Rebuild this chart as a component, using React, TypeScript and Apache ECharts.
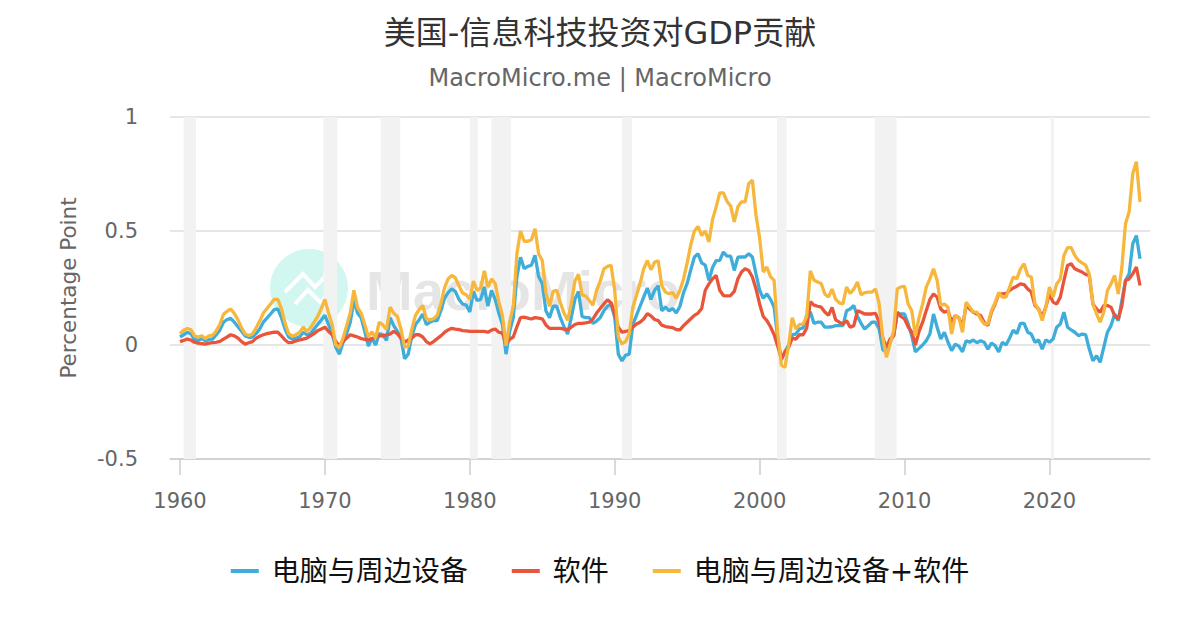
import React, { useEffect, useRef } from "react";
import * as echarts from "echarts";

const TITLE = "美国-信息科技投资对GDP贡献";
const SUBTITLE = "MacroMicro.me | MacroMicro";
const Y_NAME = "Percentage Point";
const SERIES_NAMES = ["电脑与周边设备", "软件", "电脑与周边设备+软件"];
const COLORS = ["#3eadd9", "#e8553b", "#f6b73c"];
const X_TICKS = [1960, 1970, 1980, 1990, 2000, 2010, 2020];
const Y_TICKS = [-0.5, 0, 0.5, 1];
const FIRST_YEAR = 1960;

// recession periods (start, end) in decimal years
const RECESSIONS: [number, number][] = [
  [1960.25, 1961.1],
  [1969.9, 1970.85],
  [1973.85, 1975.2],
  [1980.0, 1980.55],
  [1981.5, 1982.85],
  [1990.5, 1991.2],
  [2001.2, 2001.85],
  [2007.95, 2009.45],
  [2020.1, 2020.3],
];

// quarterly values, 1960Q1 onward (4 per row = 1 year)
const COMPUTERS = [
  0.035, 0.045, 0.055, 0.05,
  0.025, 0.02, 0.028, 0.018,
  0.025, 0.026, 0.045, 0.065,
  0.1, 0.112, 0.117, 0.1,
  0.08, 0.06, 0.04, 0.034,
  0.035, 0.05, 0.07, 0.1,
  0.118, 0.136, 0.155, 0.158,
  0.12, 0.07, 0.035, 0.026,
  0.03, 0.035, 0.056, 0.045,
  0.05, 0.07, 0.09, 0.11,
  0.13, 0.09, 0.05, -0.01,
  -0.04, 0.01, 0.05, 0.1,
  0.195, 0.14, 0.12, 0.06,
  -0.005, 0.03, 0.0, 0.05,
  0.045, 0.02, 0.12, 0.085,
  0.06, 0.03, -0.06, -0.04,
  0.04, 0.09, 0.11, 0.136,
  0.09, 0.1, 0.107, 0.107,
  0.15, 0.205, 0.23, 0.246,
  0.235, 0.2, 0.18, 0.175,
  0.145, 0.235, 0.195, 0.2,
  0.254, 0.17, 0.24, 0.2,
  0.14, 0.09, -0.04, 0.06,
  0.12, 0.3, 0.385, 0.335,
  0.345, 0.35, 0.393, 0.3,
  0.27, 0.15, 0.12, 0.17,
  0.17, 0.12, 0.08, 0.048,
  0.12, 0.2, 0.235, 0.125,
  0.12, 0.12, 0.095, 0.105,
  0.12, 0.15, 0.17, 0.18,
  0.12, -0.04, -0.07, -0.045,
  -0.04, 0.09, 0.13, 0.17,
  0.21, 0.25, 0.2, 0.24,
  0.26, 0.15, 0.166, 0.15,
  0.16, 0.14, 0.17, 0.23,
  0.27, 0.33, 0.386, 0.4,
  0.36, 0.35, 0.283, 0.34,
  0.37, 0.371, 0.408, 0.39,
  0.39, 0.327, 0.385, 0.386,
  0.386, 0.4, 0.386, 0.312,
  0.24, 0.205, 0.224, 0.2,
  0.166, 0.03, -0.065, -0.03,
  0.0, 0.045, 0.048, 0.07,
  0.075, 0.13, 0.145, 0.095,
  0.1, 0.1, 0.078, 0.078,
  0.08, 0.085, 0.085, 0.085,
  0.15, 0.158, 0.173, 0.125,
  0.095, 0.07, 0.085, 0.1,
  0.1, 0.07, -0.02, -0.032,
  0.012, 0.045, 0.136, 0.136,
  0.136, 0.092, 0.04, -0.03,
  -0.015, 0.0, 0.019, 0.048,
  0.136, 0.078, 0.026, 0.056,
  0.012, -0.025, 0.004, -0.005,
  -0.03, 0.019, 0.012, 0.022,
  0.01, 0.019, 0.012, -0.018,
  0.008, -0.003, -0.03, 0.012,
  0.0, 0.03, 0.065, 0.05,
  0.095, 0.095, 0.056, 0.048,
  0.012, 0.022, -0.018, 0.023,
  0.012, 0.026, 0.078, 0.092,
  0.144, 0.078, 0.066, 0.056,
  0.041, 0.048, 0.045, -0.018,
  -0.069, -0.047, -0.076, -0.01,
  0.056, 0.085, 0.136, 0.107,
  0.195, 0.283, 0.312, 0.444,
  0.48, 0.378,
];

const SOFTWARE = [
  0.015, 0.02, 0.026, 0.022,
  0.012, 0.008, 0.006, 0.004,
  0.008, 0.01, 0.012, 0.016,
  0.026, 0.035, 0.045, 0.04,
  0.03, 0.015, 0.004, 0.01,
  0.015, 0.03, 0.038, 0.045,
  0.05, 0.053, 0.056, 0.056,
  0.04, 0.022, 0.01, 0.012,
  0.018, 0.022, 0.026, 0.03,
  0.04, 0.05, 0.063, 0.07,
  0.078, 0.06, 0.045, 0.015,
  -0.003, 0.015, 0.03, 0.045,
  0.04, 0.035, 0.028, 0.025,
  0.022, 0.028, 0.034, 0.04,
  0.04, 0.045, 0.048, 0.06,
  0.05, 0.03, 0.012, 0.022,
  0.03, 0.045, 0.045, 0.035,
  0.015, 0.005, 0.015, 0.028,
  0.04, 0.055, 0.066, 0.073,
  0.07, 0.068, 0.063, 0.062,
  0.06, 0.06, 0.06, 0.06,
  0.06, 0.056, 0.065, 0.07,
  0.056, 0.052, 0.004, 0.025,
  0.035, 0.08, 0.12, 0.122,
  0.118, 0.114, 0.12, 0.118,
  0.115, 0.088, 0.073, 0.073,
  0.073, 0.073, 0.07, 0.067,
  0.078, 0.09, 0.095, 0.095,
  0.097, 0.1, 0.114, 0.14,
  0.16, 0.18, 0.198, 0.185,
  0.136, 0.078, 0.056, 0.06,
  0.063, 0.078, 0.092, 0.1,
  0.114, 0.138, 0.128, 0.112,
  0.107, 0.087, 0.081, 0.078,
  0.076, 0.068, 0.066, 0.085,
  0.1, 0.115, 0.13, 0.14,
  0.16, 0.24, 0.268, 0.29,
  0.305, 0.24, 0.217, 0.215,
  0.217, 0.235, 0.29, 0.32,
  0.334, 0.327, 0.298, 0.246,
  0.18, 0.125, 0.107, 0.08,
  0.045, -0.005, -0.06, -0.03,
  -0.01, 0.03, 0.026, 0.045,
  0.045, 0.075, 0.19, 0.175,
  0.17, 0.166, 0.145, 0.13,
  0.165, 0.11, 0.1, 0.092,
  0.107, 0.078, 0.085, 0.15,
  0.144, 0.136, 0.136, 0.136,
  0.139, 0.1, 0.03, -0.01,
  0.026, 0.04, 0.144, 0.125,
  0.114, 0.08, 0.056, 0.0,
  0.06, 0.1, 0.151, 0.2,
  0.224, 0.21, 0.158, 0.144,
  0.151, 0.1, 0.129, 0.12,
  0.08, 0.173, 0.158, 0.144,
  0.136, 0.129, 0.1, 0.085,
  0.144, 0.18, 0.224, 0.224,
  0.226, 0.239, 0.25, 0.258,
  0.268, 0.265, 0.246, 0.232,
  0.173, 0.158, 0.122, 0.166,
  0.224, 0.188, 0.18, 0.21,
  0.283, 0.349, 0.356, 0.334,
  0.327, 0.32, 0.31, 0.305,
  0.18, 0.158, 0.144, 0.173,
  0.173, 0.166, 0.129, 0.114,
  0.173, 0.283, 0.29, 0.312,
  0.342, 0.261,
];

const TOTAL = [
  0.05, 0.065, 0.072, 0.068,
  0.04, 0.035, 0.04, 0.028,
  0.04, 0.042, 0.062, 0.09,
  0.135, 0.148, 0.158, 0.138,
  0.11, 0.075, 0.048, 0.042,
  0.048, 0.075, 0.105, 0.14,
  0.16, 0.18, 0.2, 0.2,
  0.16, 0.095, 0.05, 0.038,
  0.045, 0.055, 0.078, 0.06,
  0.075, 0.1, 0.125, 0.16,
  0.2, 0.14, 0.09, 0.0,
  -0.01, 0.03, 0.085, 0.14,
  0.24, 0.165, 0.14, 0.09,
  0.035, 0.058, 0.03, 0.1,
  0.088, 0.068, 0.166, 0.14,
  0.125, 0.07, -0.01, -0.005,
  0.07, 0.13, 0.155, 0.173,
  0.115, 0.11, 0.115, 0.13,
  0.18, 0.25, 0.29, 0.305,
  0.295, 0.26, 0.228, 0.22,
  0.2, 0.28, 0.24, 0.25,
  0.325, 0.255, 0.29, 0.27,
  0.19, 0.13, -0.003, 0.1,
  0.17, 0.4, 0.5, 0.455,
  0.455, 0.462, 0.51, 0.4,
  0.37, 0.23, 0.17, 0.235,
  0.24, 0.185, 0.14, 0.108,
  0.18, 0.28, 0.31, 0.22,
  0.215, 0.195, 0.175, 0.24,
  0.28, 0.334, 0.345, 0.35,
  0.24, 0.035, 0.005, 0.015,
  0.048, 0.166, 0.217, 0.27,
  0.334, 0.37, 0.33, 0.363,
  0.37, 0.26, 0.232, 0.225,
  0.23, 0.205, 0.24, 0.29,
  0.36, 0.44, 0.5, 0.52,
  0.48, 0.5, 0.452, 0.55,
  0.606, 0.667, 0.667, 0.63,
  0.61, 0.54, 0.606, 0.628,
  0.628, 0.708, 0.723, 0.569,
  0.47, 0.32, 0.342, 0.3,
  0.283, 0.05, -0.088, -0.098,
  0.0, 0.12, 0.07, 0.09,
  0.092, 0.125, 0.325, 0.285,
  0.276, 0.27, 0.224, 0.21,
  0.245, 0.2, 0.185, 0.18,
  0.254, 0.226, 0.246, 0.276,
  0.22, 0.23, 0.232, 0.232,
  0.246, 0.18, 0.03, -0.054,
  0.004, 0.063, 0.246, 0.255,
  0.257, 0.18, 0.15, 0.04,
  0.12, 0.18, 0.254, 0.29,
  0.334, 0.283, 0.173, 0.18,
  0.166, 0.048, 0.129, 0.12,
  0.056, 0.188, 0.166, 0.144,
  0.144, 0.114, 0.092, 0.092,
  0.151, 0.185, 0.23, 0.21,
  0.21, 0.254, 0.298, 0.29,
  0.334, 0.356, 0.305, 0.298,
  0.18, 0.158, 0.107, 0.166,
  0.254, 0.21, 0.268, 0.29,
  0.393, 0.427, 0.427, 0.393,
  0.371, 0.36, 0.35, 0.31,
  0.18, 0.136, 0.1, 0.144,
  0.239, 0.268, 0.305, 0.224,
  0.342, 0.532, 0.584, 0.752,
  0.804, 0.628,
];

const FONT = "'DejaVu Sans', 'Noto Sans CJK SC', sans-serif";

function quarterDates(n: number): number[] {
  const out: number[] = [];
  for (let i = 0; i < n; i++) out.push(FIRST_YEAR + i * 0.25);
  return out;
}

export default function App() {
  const ref = useRef<HTMLDivElement>(null);

  useEffect(() => {
    if (!ref.current) return;
    const chart = echarts.init(ref.current, undefined, { renderer: "svg" });
    const dates = quarterDates(COMPUTERS.length);
    const pair = (vals: number[]) => vals.map((v, i) => [dates[i], v]);
    const all = [COMPUTERS, SOFTWARE, TOTAL];

    const series: any[] = all.map((vals, k) => ({
      name: SERIES_NAMES[k],
      type: "line",
      data: pair(vals),
      showSymbol: false,
      symbol: "none",
      z: 3 + k,
      lineStyle: { width: 3.3, color: COLORS[k] },
      itemStyle: { color: COLORS[k] },
    }));
    series[0].markArea = {
      silent: true,
      z: 1,
      itemStyle: { color: "#f2f2f2" },
      data: RECESSIONS.map(([a, b]) => [{ xAxis: a }, { xAxis: b }]),
    };

    chart.setOption({
      animation: false,
      backgroundColor: "#ffffff",
      title: {
        text: TITLE,
        subtext: SUBTITLE,
        left: "center",
        top: 12,
        itemGap: 17,
        textStyle: { fontSize: 32, fontWeight: "normal", color: "#333", fontFamily: FONT, lineHeight: 32 },
        subtextStyle: { fontSize: 24, color: "#666", fontFamily: FONT, lineHeight: 24 },
      },
      legend: {
        data: SERIES_NAMES,
        left: "center",
        top: 552,
        icon: "rect",
        itemWidth: 28,
        itemHeight: 4,
        itemGap: 44,
        textStyle: { fontSize: 28, color: "#111", fontFamily: FONT, padding: [0, 0, 0, 8] },
      },
      grid: { left: 170, right: 50, top: 117, bottom: 171 },
      xAxis: {
        type: "value",
        min: 1959.31,
        max: 2026.94,
        axisLine: { show: true, onZero: false, lineStyle: { color: "#cccccc", width: 1.5 } },
        axisTick: { show: true, length: 16, customValues: X_TICKS, lineStyle: { color: "#cccccc", width: 1.5 } },
        axisLabel: {
          customValues: X_TICKS,
          formatter: (v: number) => String(v),
          fontSize: 21,
          color: "#666",
          margin: 31,
          fontFamily: FONT,
        },
        splitLine: { show: false },
      },
      yAxis: {
        type: "value",
        min: Y_TICKS[0],
        max: Y_TICKS[Y_TICKS.length - 1],
        interval: 0.5,
        name: Y_NAME,
        nameLocation: "middle",
        nameGap: 91,
        nameTextStyle: { fontSize: 21.5, color: "#666", fontFamily: FONT },
        axisLine: { show: false },
        axisTick: { show: false },
        axisLabel: { fontSize: 21, color: "#666", margin: 32, fontFamily: FONT },
        splitLine: { lineStyle: { color: "#e6e6e6", width: 2 } },
      },
      graphic: [
        { type: "circle", z: 0, silent: true, shape: { cx: 309, cy: 288, r: 39 }, style: { fill: "rgba(180,240,230,0.6)" } },
        {
          type: "polyline", z: 0, silent: true,
          shape: { points: [[285, 292], [303, 274], [315, 287], [325, 277]] },
          style: { stroke: "#ffffff", lineWidth: 4, fill: null },
        },
        {
          type: "polyline", z: 0, silent: true,
          shape: { points: [[295, 304], [308, 290], [320, 302], [332, 292]] },
          style: { stroke: "#ffffff", lineWidth: 4, fill: null },
        },
        { type: "circle", z: 0, silent: true, shape: { cx: 328, cy: 274, r: 4 }, style: { fill: null, stroke: "#ffffff", lineWidth: 2 } },
        {
          type: "text", z: 0, silent: true, x: 366, y: 290,
          style: {
            text: "MacroMicro",
            font: "bold 56px 'Liberation Sans', sans-serif",
            fill: "rgba(0,0,0,0.1)",
            verticalAlign: "middle",
            align: "left",
          },
        },
      ],
      series,
    });

    return () => chart.dispose();
  }, []);

  return <div ref={ref} style={{ position: "fixed", left: 0, top: 0, width: 1200, height: 630 }} />;
}
